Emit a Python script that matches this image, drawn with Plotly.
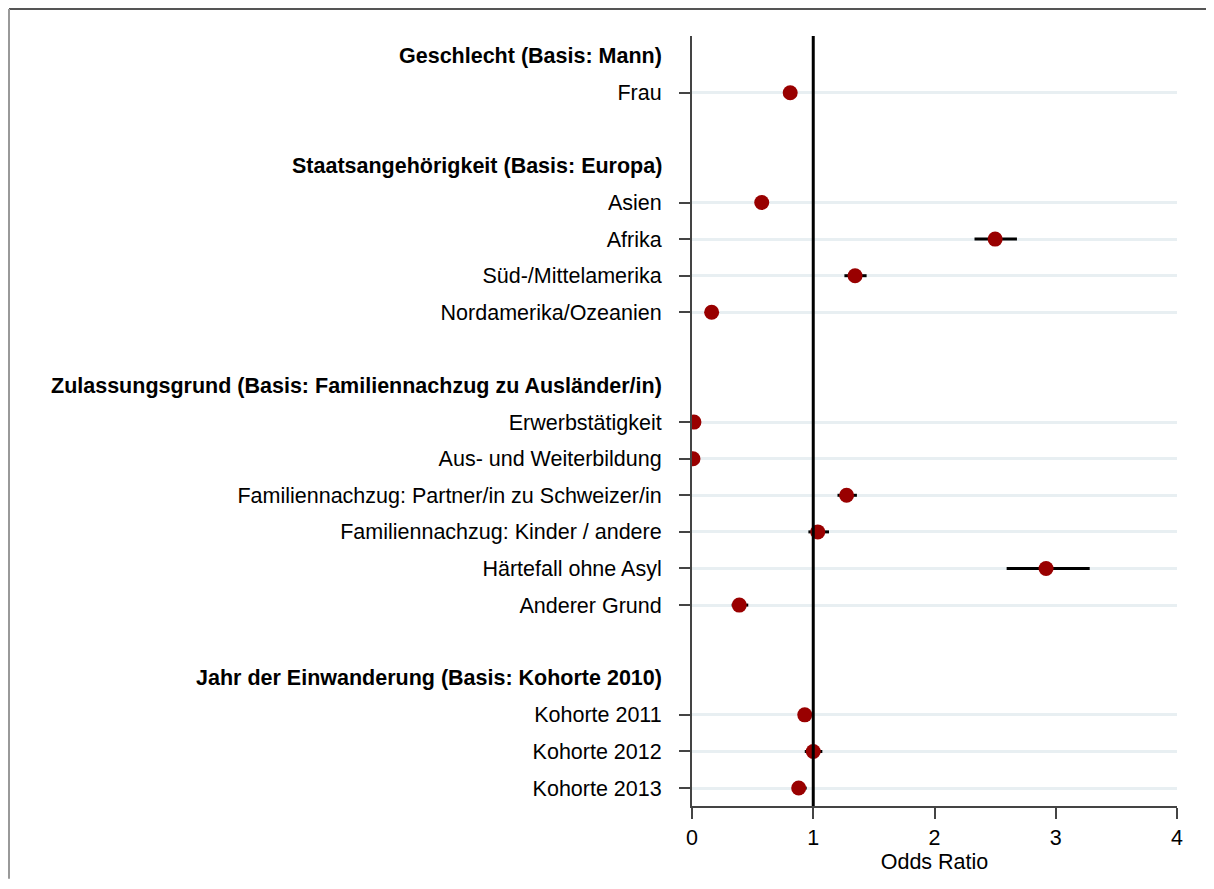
import plotly.graph_objects as go

# ---- data ----
group_headers = [
    "Geschlecht (Basis: Mann)",
    "Staatsangehörigkeit (Basis: Europa)",
    "Zulassungsgrund (Basis: Familiennachzug zu Ausländer/in)",
    "Jahr der Einwanderung (Basis: Kohorte 2010)",
]
group_items = [
    ["Frau"],
    ["Asien", "Afrika", "Süd-/Mittelamerika", "Nordamerika/Ozeanien"],
    ["Erwerbstätigkeit", "Aus- und Weiterbildung", "Familiennachzug: Partner/in zu Schweizer/in",
     "Familiennachzug: Kinder / andere", "Härtefall ohne Asyl", "Anderer Grund"],
    ["Kohorte 2011", "Kohorte 2012", "Kohorte 2013"],
]
odds_ratio = [0.81,
              0.575, 2.50, 1.345, 0.162,
              0.016, 0.008, 1.275, 1.037, 2.92, 0.39,
              0.93, 1.00, 0.88]
ci_low = [0.78,
          0.55, 2.33, 1.257, 0.14,
          0.005, 0.0, 1.20, 0.96, 2.595, 0.327,
          0.877, 0.93, 0.83]
ci_high = [0.84,
           0.60, 2.68, 1.44, 0.18,
           0.03, 0.02, 1.36, 1.13, 3.28, 0.464,
           0.98, 1.075, 0.946]
x_ticks = [0, 1, 2, 3, 4]

# ---- build row layout ----
item_labels, item_rows, header_rows = [], [], []
r = 0
for gi, (h, items) in enumerate(zip(group_headers, group_items)):
    header_rows.append(r)
    r += 1
    for it in items:
        item_labels.append(it)
        item_rows.append(r)
        r += 1
    if gi < len(group_headers) - 1:
        r += 1  # blank row between groups
last_row = r - 1

FONT = "Liberation Sans, Arial, sans-serif"
FS = 21.5

W, H = 1198, 873
ML, MR, MT, MB = 684, 29, 28, 73
pw, ph = W - ML - MR, H - MT - MB

err_plus = [h - v for h, v in zip(ci_high, odds_ratio)]
err_minus = [v - l for v, l in zip(odds_ratio, ci_low)]

fig = go.Figure()
fig.add_trace(go.Scatter(
    x=odds_ratio, y=item_rows, mode="markers",
    marker=dict(color="#990000", size=15, line=dict(width=0)),
    error_x=dict(type="data", symmetric=False, array=err_plus, arrayminus=err_minus,
                 color="black", thickness=3, width=0),
    showlegend=False, hoverinfo="x+text", text=item_labels,
))

# reference line at OR = 1
fig.add_shape(type="line", xref="x", yref="paper", x0=1, x1=1, y0=0, y1=1,
              line=dict(color="black", width=3), layer="above")

# group headers
for h, hr in zip(group_headers, header_rows):
    fig.add_annotation(text="<b>%s</b>" % h, xref="paper", yref="y", x=0, y=hr,
                       xanchor="right", yanchor="middle", xshift=-28, showarrow=False,
                       font=dict(family=FONT, size=FS, color="black"))

# outer frame (top and left edges of the page)
px0 = -ML / pw + 1 / pw
py1 = 1 + (MT - 1) / ph
fig.add_shape(type="line", xref="paper", yref="paper", x0=px0, x1=1 + MR / pw, y0=py1, y1=py1,
              line=dict(color="#555555", width=2))
fig.add_shape(type="line", xref="paper", yref="paper", x0=px0, x1=px0, y0=py1, y1=-MB / ph,
              line=dict(color="#999999", width=2))

fig.update_layout(
    width=W, height=H,
    margin=dict(l=ML, r=MR, t=MT, b=MB),
    paper_bgcolor="white", plot_bgcolor="white",
    font=dict(family=FONT, size=FS, color="black"),
    xaxis=dict(range=[0, 4], tickvals=x_ticks, ticks="outside", ticklen=11, tickwidth=2,
               tickcolor="#444", showline=True, linecolor="#444", linewidth=2,
               showgrid=False, zeroline=False,
               title=dict(text="Odds Ratio", standoff=4, font=dict(size=FS)),
               tickfont=dict(size=FS)),
    yaxis=dict(range=[last_row + 0.49, -0.55], tickvals=item_rows, ticktext=item_labels,
               ticks="outside", ticklen=11, tickwidth=2, tickcolor="#444",
               showline=True, linecolor="#444", linewidth=2,
               showgrid=True, gridcolor="#e8eff2", gridwidth=3, zeroline=False,
               ticklabelstandoff=13, tickfont=dict(size=FS)),
)

fig.write_html("out.html")
